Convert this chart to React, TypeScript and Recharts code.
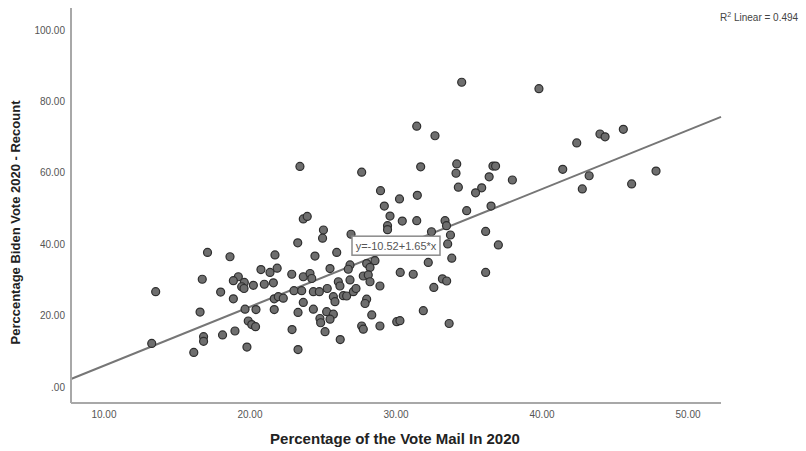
import React from "react";
import {
  ScatterChart,
  Scatter,
  XAxis,
  YAxis,
  ReferenceLine,
  ReferenceDot,
} from "recharts";

// Percentage of the vote mailed in 2020 (x) and Biden vote % recount (y)
const mailInPct: number[] = [
  13.54, 13.27, 17.09, 16.73, 16.58, 16.15, 16.82, 16.82, 17.99, 18.12,
  18.63, 18.86, 18.97, 19.2, 18.86, 19.61, 19.43, 19.59, 20.23, 19.66,
  20.41, 19.88, 20.12, 20.38, 19.79, 20.75, 20.98, 21.37, 21.86, 21.71,
  21.6, 21.66, 21.94, 22.28, 21.66, 22.86, 22.88, 23.01, 23.27, 23.29,
  23.29, 24.45, 25.94, 23.65, 24.11, 24.23, 25.48, 26.85, 26.73, 27.99,
  28.22, 28.56, 27.76, 28.1, 28.22, 28.9, 26.05, 26.16, 26.85, 25.29,
  24.34, 24.75, 23.54, 25.71, 25.82, 26.39, 26.62, 27.08, 27.26, 23.65,
  24.34, 25.25, 25.71, 25.48, 24.79, 24.84, 27.99, 27.88, 28.34, 27.65,
  27.76, 28.9, 30.05, 30.27, 25.14, 26.18, 23.42, 27.65, 28.94, 30.24,
  29.2, 29.59, 29.42, 29.42, 23.65, 23.92, 25.03, 24.97, 26.92, 30.43,
  31.42, 33.36, 33.46, 34.84, 36.51, 32.43, 33.73, 33.54, 33.82, 36.14,
  37.01, 36.14, 32.21, 30.29, 31.18, 33.18, 33.47, 32.59, 31.87, 33.64,
  34.5, 39.79, 31.42, 32.67, 31.69, 34.16, 34.11, 36.64, 36.82, 36.38,
  37.97, 34.27, 35.87, 35.45, 31.46, 41.42, 42.38, 43.97, 44.32, 43.23,
  42.76, 45.57, 46.14, 47.81,
];

const bidenPct: number[] = [
  26.7, 12.2, 37.7, 30.2, 21.0, 9.7, 14.1, 12.8, 26.6, 14.6,
  36.5, 24.7, 15.7, 30.9, 29.8, 29.3, 28.1, 27.6, 28.5, 21.8,
  21.7, 18.5, 17.5, 16.9, 11.2, 32.9, 28.8, 32.1, 33.3, 37.0,
  29.2, 24.7, 25.3, 24.9, 21.7, 31.6, 16.1, 27.0, 40.4, 20.9,
  10.5, 36.7, 37.7, 30.9, 31.8, 30.4, 33.2, 34.2, 33.0, 34.6,
  33.5, 35.4, 31.1, 31.4, 29.5, 28.3, 29.5, 28.3, 30.0, 27.6,
  26.7, 26.7, 27.0, 25.3, 23.9, 25.6, 25.5, 26.7, 27.6, 23.7,
  21.8, 21.1, 20.4, 19.0, 19.2, 18.0, 24.6, 23.4, 20.2, 17.1,
  16.2, 17.1, 18.3, 18.6, 15.5, 13.3, 61.8, 60.2, 55.0, 52.7,
  50.7, 47.9, 45.2, 44.1, 47.1, 47.8, 44.0, 41.7, 42.8, 46.5,
  46.6, 46.6, 45.2, 49.4, 50.7, 43.5, 42.6, 40.1, 36.1, 43.6,
  39.8, 32.1, 34.9, 32.1, 31.6, 30.3, 29.7, 27.9, 21.4, 17.8,
  85.4, 83.6, 73.1, 70.4, 61.7, 62.5, 59.9, 61.9, 61.9, 58.9,
  58.0, 56.0, 55.8, 54.4, 53.7, 61.0, 68.4, 70.9, 70.1, 59.2,
  55.5, 72.2, 56.9, 60.5,
];

const xTicks: number[] = [10, 20, 30, 40, 50];
const yTicks: number[] = [0, 20, 40, 60, 80, 100];
const xDomain: [number, number] = [7.74, 52.26];
const yDomain: [number, number] = [-4.48, 106.2];

const fitIntercept = -10.52;
const fitSlope = 1.65;
const rSquared = 0.494;
const equationAnchor = { x: 30.0, y: 39.6 };

const points = mailInPct.map((x, i) => ({ x, y: bidenPct[i] }));
const fitAt = (x: number) => fitIntercept + fitSlope * x;

const fmt = (v: number) => (v === 0 ? ".00" : v.toFixed(2));
const FONT = "Arial, 'Liberation Sans', sans-serif";

const Dot = (props: any) => {
  const { cx, cy } = props;
  if (cx == null || cy == null) return null;
  return (
    <circle cx={cx} cy={cy} r={4} fill="#6e6e6e" stroke="#2e2e2e" strokeWidth={1.2} />
  );
};

const EquationBox = (props: any) => {
  const { cx, cy } = props;
  if (cx == null || cy == null) return null;
  const w = 88;
  const h = 19;
  return (
    <g>
      <rect x={cx - w / 2} y={cy - h / 2} width={w} height={h} fill="#ffffff" stroke="#8a8a8a" strokeWidth={1.5} />
      <text x={cx} y={cy + 4} textAnchor="middle" fontFamily={FONT} fontSize={11} fill="#555">
        {`y=${fitIntercept.toFixed(2)}+${fitSlope.toFixed(2)}*x`}
      </text>
    </g>
  );
};

export default function App() {
  return (
    <div style={{ position: "absolute", left: 0, top: 0, width: 806, height: 451, background: "#fff" }}>
      <ScatterChart
        width={806}
        height={451}
        margin={{ top: 8, right: 85, bottom: 8, left: 11 }}
      >
        <XAxis
          type="number"
          dataKey="x"
          domain={xDomain}
          ticks={xTicks}
          allowDataOverflow
          tickFormatter={fmt}
          tickLine={false}
          height={40}
          axisLine={{ stroke: "#a8a8a8", strokeWidth: 2 }}
          tick={{ fontSize: 10, fill: "#555", fontFamily: FONT }}
        />
        <YAxis
          type="number"
          dataKey="y"
          domain={yDomain}
          ticks={yTicks}
          allowDataOverflow
          tickFormatter={fmt}
          tickLine={false}
          tickSize={4}
          tickMargin={2}
          width={60}
          axisLine={{ stroke: "#a8a8a8", strokeWidth: 2 }}
          tick={{ fontSize: 10, fill: "#555", fontFamily: FONT }}
        />
        <Scatter data={points} shape={<Dot />} isAnimationActive={false} />
        <ReferenceLine
          segment={[
            { x: xDomain[0], y: fitAt(xDomain[0]) },
            { x: xDomain[1], y: fitAt(xDomain[1]) },
          ]}
          stroke="#767676"
          strokeWidth={2}
          ifOverflow="visible"
        />
        <ReferenceDot
          x={equationAnchor.x}
          y={equationAnchor.y}
          shape={<EquationBox />}
          ifOverflow="visible"
        />
      </ScatterChart>
      <svg
        width={806}
        height={451}
        style={{ position: "absolute", left: 0, top: 0, pointerEvents: "none" }}
      >
        <text x={395} y={444} textAnchor="middle" fontFamily={FONT} fontSize={15} fontWeight="bold" fill="#222">
          Percentage of the Vote Mail In 2020
        </text>
        <text
          x={0}
          y={0}
          transform="translate(20,222.5) rotate(-90)"
          textAnchor="middle"
          fontFamily={FONT}
          fontSize={13}
          fontWeight="bold"
          fill="#222"
        >
          Perccentage Biden Vote 2020 - Recount
        </text>
        <text x={720} y={21} fontFamily={FONT} fontSize={10} fill="#444">
          R<tspan dy={-4} fontSize={7}>2</tspan>
          <tspan dy={4}>{` Linear = ${rSquared.toFixed(3)}`}</tspan>
        </text>
      </svg>
    </div>
  );
}
